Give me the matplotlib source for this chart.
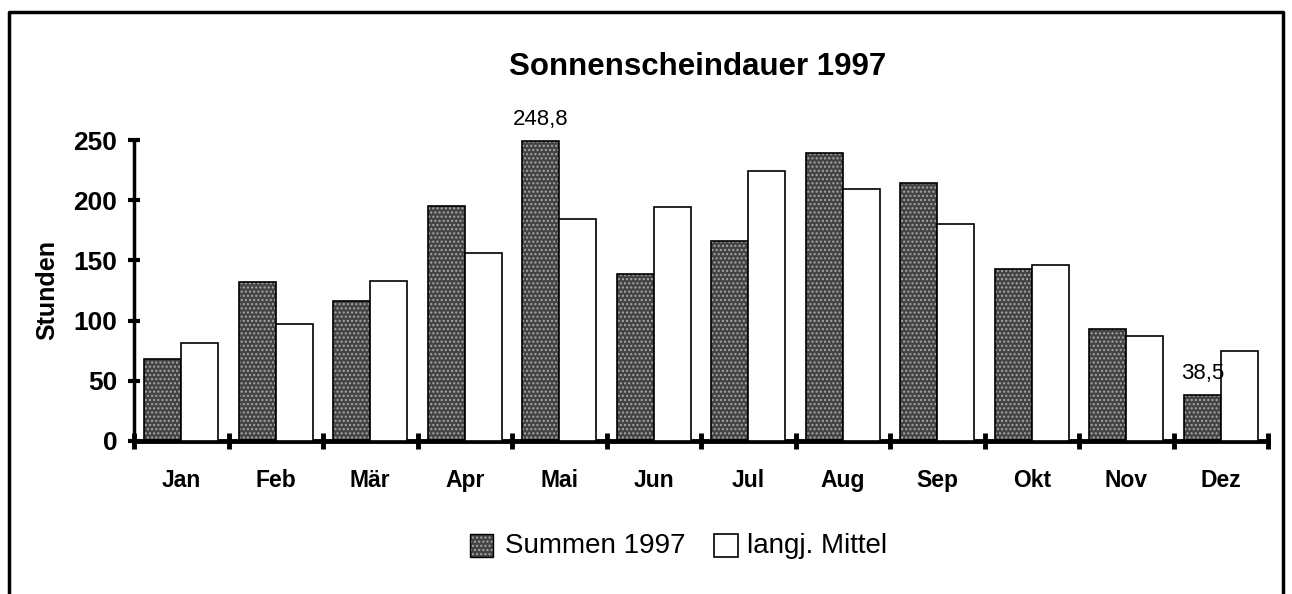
import matplotlib
matplotlib.use("Agg")
import matplotlib.pyplot as plt
from matplotlib.lines import Line2D
import numpy as np

#chart data
monate = ["Jan", "Feb", "Mär", "Apr", "Mai", "Jun", "Jul", "Aug", "Sep", "Okt", "Nov", "Dez"]
summen1997 = [68, 132, 116, 195, 248.8, 139, 166, 239, 214, 143, 93, 38.5]
mittel = [81, 97, 133, 156, 184, 194, 224, 209, 180, 146, 87, 75]
yticks = [0, 50, 100, 150, 200, 250]

plt.rcParams['font.family'] = ['Liberation Sans', 'DejaVu Sans']

fig = plt.figure(figsize=(12.92, 5.94), dpi=100)
ax = fig.add_axes([134/1292, 1-441/594, (1268-134)/1292, (441-140)/594])

x = np.arange(len(monate))
w = 0.39

#dark bars with a light dot screen, then a black outline
ax.bar(x - w/2, summen1997, w, color="#444444", edgecolor="#a8a8a8",
       hatch="....", linewidth=0, zorder=2)
ax.bar(x - w/2, summen1997, w, fill=False, edgecolor="black", linewidth=1.2, zorder=3)
ax.bar(x + w/2, mittel, w, color="white", edgecolor="black", linewidth=1.2, zorder=3)

ax.set_xlim(-0.5, len(monate) - 0.5)
ax.set_ylim(0, 250)

#axes styling
for s in ["top", "right"]:
    ax.spines[s].set_visible(False)
ax.spines["left"].set_linewidth(2.5)
ax.spines["bottom"].set_linewidth(3.5)

ax.set_yticks(yticks)
ax.set_yticklabels([str(v) for v in yticks], fontsize=19, fontweight="bold")
ax.tick_params(axis="y", direction="inout", length=8, width=3, pad=8)

ax.set_xticks(x)
ax.set_xticklabels(monate, fontsize=16.5, fontweight="bold")
ax.tick_params(axis="x", which="major", length=0, pad=20)
ax.set_xticks(np.arange(len(monate) + 1) - 0.5, minor=True)
ax.tick_params(axis="x", which="minor", direction="inout", length=11, width=3.5)

ax.set_ylabel("Stunden", fontsize=18, fontweight="bold", labelpad=10)

#value labels on two bars
ax.annotate("248,8", (4 - w/2, 248.8), xytext=(0, 8), textcoords="offset points",
            ha="center", va="bottom", fontsize=16)
ax.annotate("38,5", (11 - w/2, 38.5), xytext=(0, 8), textcoords="offset points",
            ha="center", va="bottom", fontsize=16)

fig.text(698/1292, 1-67/594, "Sonnenscheindauer 1997", ha="center", va="center",
         fontsize=22.5, fontweight="bold")

#legend drawn by hand to keep it on one line like the original
lax = fig.add_axes([0, 0, 1, 1], facecolor="none")
lax.set_xlim(0, 1292)
lax.set_ylim(594, 0)
lax.axis("off")
lax.add_patch(plt.Rectangle((470, 534), 23, 23, facecolor="#444444",
                            edgecolor="#a8a8a8", hatch="....", linewidth=0))
lax.add_patch(plt.Rectangle((470, 534), 23, 23, fill=False, edgecolor="black", linewidth=1))
lax.text(505, 546, "Summen 1997", fontsize=20, va="center", ha="left")
lax.add_patch(plt.Rectangle((714, 534), 24, 23, facecolor="white", edgecolor="black", linewidth=1.2))
lax.text(747, 546, "langj. Mittel", fontsize=20, va="center", ha="left")

#outer frame (left, top, right)
lax.add_line(Line2D([9, 9, 1283, 1283], [594, 12, 12, 594], color="black", linewidth=2.5))

fig.savefig("out.png", dpi=100)
